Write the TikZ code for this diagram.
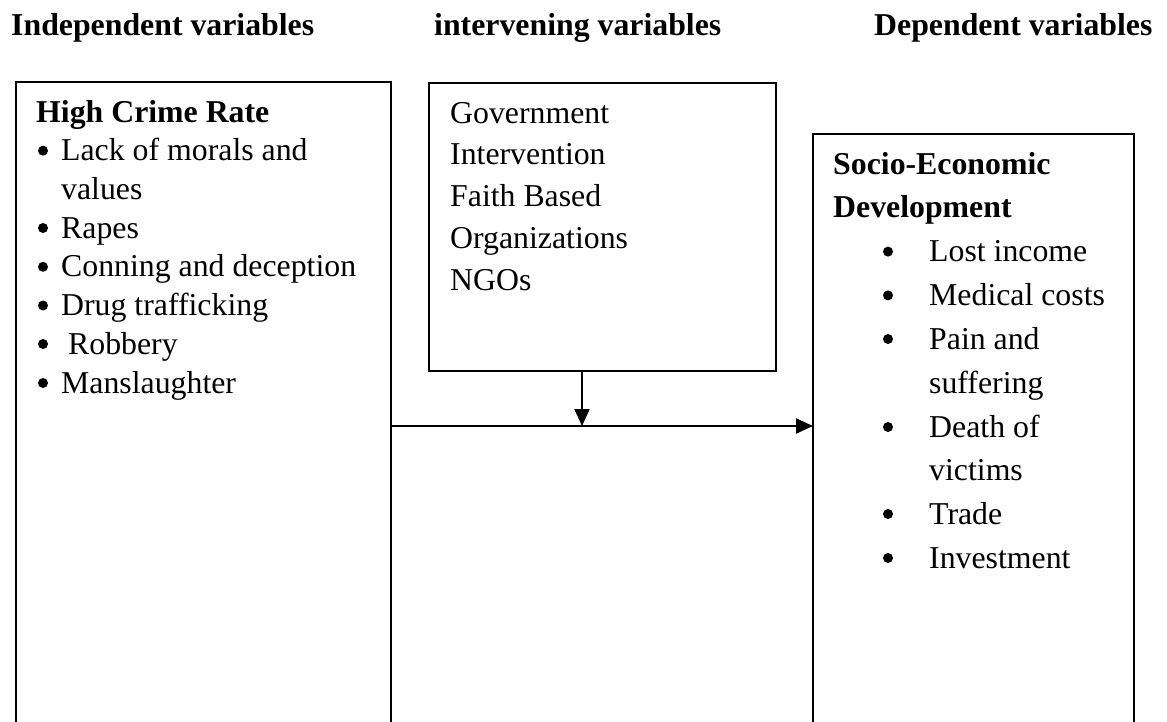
\documentclass[tikz,border=0pt]{standalone}
\usepackage{fontspec}
\setmainfont{Liberation Serif}
\usetikzlibrary{arrows.meta}
\tikzset{
  frame/.style={draw, line width=2.2pt},
  boxline/.style={line width=2.2pt},
  conn/.style={line width=2.2pt, -{Triangle[length=17pt,width=15pt]}},
  hdr/.style={anchor=base west, inner sep=0pt, font=\fontsize{31.8}{38}\selectfont\bfseries},
  txt/.style={anchor=base west, inner sep=0pt, font=\fontsize{31.8}{38}\selectfont},
  btxt/.style={anchor=base west, inner sep=0pt, font=\fontsize{31.8}{38}\selectfont\bfseries},
  dot/.style={circle, fill=black, inner sep=0pt, minimum size=10pt},
}
\begin{document}
\begin{tikzpicture}[x=1pt,y=-1pt]
\useasboundingbox (0,0) rectangle (1167,721);
% headers
\node[hdr] (h1) at (11,35) {Independent variables};
\node[hdr] (h2) at (434,35) {intervening variables};
\node[hdr] (h3) at (874,35) {Dependent variables};
% left box (open at the bottom)
\coordinate (lbl) at (16,723);
\coordinate (ltl) at (16,82);
\coordinate (ltr) at (391,82);
\coordinate (lbr) at (391,723);
\draw[boxline] (lbl) -- (ltl) -- (ltr) -- (lbr);
\node[btxt] (l0) at (36,122) {High Crime Rate};
\node[dot] (b1) at (43,150.7) {};
\node[txt] (l1) at (61,160.7) {Lack of morals and};
\node[txt] (l1b) at (61,199.4) {values};
\node[dot] (b2) at (43,228) {};
\node[txt] (l2) at (61,238) {Rapes};
\node[dot] (b3) at (43,266.8) {};
\node[txt] (l3) at (61,276.8) {Conning and deception};
\node[dot] (b4) at (43,305.5) {};
\node[txt] (l4) at (61,315.5) {Drug trafficking};
\node[dot] (b5) at (43,344) {};
\node[txt] (l5) at (68,354) {Robbery};
\node[dot] (b6) at (43,383) {};
\node[txt] (l6) at (61,393) {Manslaughter};
% middle box
\draw[frame] (429,83) rectangle (776,371);
\node[inner sep=0pt, minimum width=347pt, minimum height=288pt] (mid) at (602.5,227) {};
\node[txt] (m1) at (450,123) {Government};
\node[txt] (m2) at (450,164.7) {Intervention};
\node[txt] (m3) at (450,206.4) {Faith Based};
\node[txt] (m4) at (450,248) {Organizations};
\node[txt] (m5) at (450,290) {NGOs};
% right box (open at the bottom)
\coordinate (rbl) at (813,723);
\coordinate (rtl) at (813,134);
\coordinate (rtr) at (1134,134);
\coordinate (rbr) at (1134,723);
\draw[boxline] (rbl) -- (rtl) -- (rtr) -- (rbr);
\node[btxt] (r0) at (833,174) {Socio-Economic};
\node[btxt] (r0b) at (833,217.8) {Development};
\node[dot] (rb1) at (888,251.6) {};
\node[txt] (r1) at (929,261.6) {Lost income};
\node[dot] (rb2) at (888,295.4) {};
\node[txt] (r2) at (929,305.4) {Medical costs};
\node[dot] (rb3) at (888,339) {};
\node[txt] (r3) at (929,349) {Pain and};
\node[txt] (r3b) at (929,393) {suffering};
\node[dot] (rb4) at (888,427) {};
\node[txt] (r4) at (929,437) {Death of};
\node[txt] (r4b) at (929,480.6) {victims};
\node[dot] (rb5) at (888,514) {};
\node[txt] (r5) at (929,524) {Trade};
\node[dot] (rb6) at (888,558) {};
\node[txt] (r6) at (929,568) {Investment};
% connectors
\coordinate (src) at (391,426);
\coordinate (dst) at (813,426);
\coordinate (j) at (582,426);
\draw[conn] (src) -- (dst);
\draw[conn] (mid.south -| j) -- (j);
\end{tikzpicture}
\end{document}
